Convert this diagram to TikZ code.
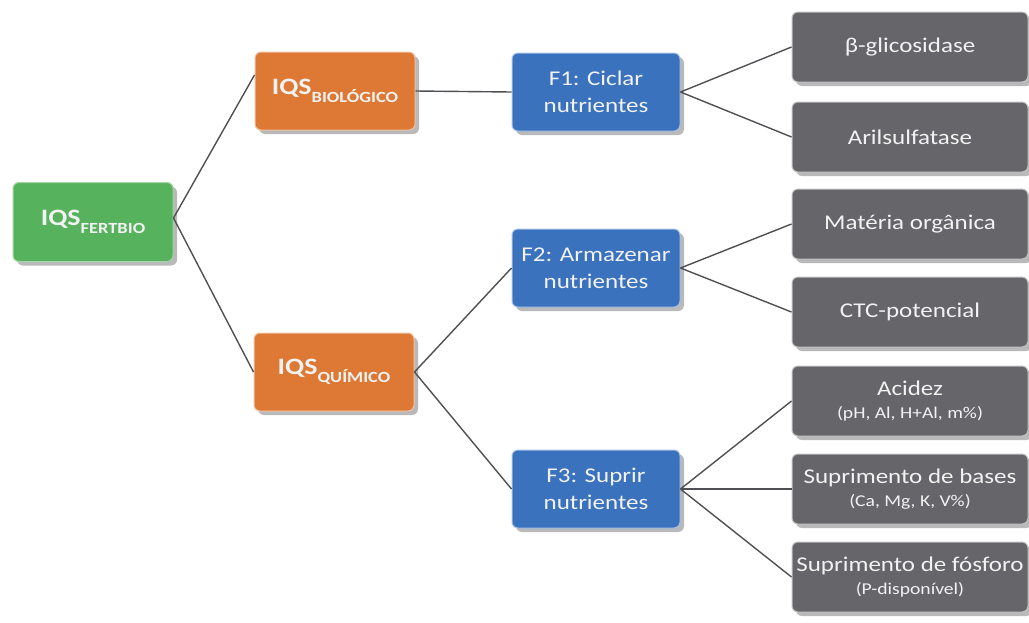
\documentclass[tikz,border=0pt]{standalone}
\usepackage{fontspec}
\setmainfont[FakeStretch=1.19]{Carlito}
\usetikzlibrary{shadows}
\definecolor{verde}{RGB}{86,178,92}
\definecolor{laranja}{RGB}{221,121,52}
\definecolor{azul}{RGB}{58,114,190}
\definecolor{cinza}{RGB}{102,102,106}
\definecolor{linha}{RGB}{80,80,84}
\newcommand{\iqs}[1]{\textbf{{\fontsize{23.5}{23}\selectfont IQS}\raisebox{-8pt}{\fontsize{15.5}{16}\selectfont #1}}}
\begin{document}
\begin{tikzpicture}[x=1pt,y=-1pt,
    caixa/.style={rectangle, rounded corners=6pt, line width=1pt, text=white!95!black,
        inner sep=0pt, align=center, font=\fontsize{21}{27}\selectfont,
        drop shadow={shadow xshift=4pt, shadow yshift=-4pt, opacity=0.55}},
    raiz/.style={caixa, fill=verde, draw=verde!55!white, minimum width=160pt, minimum height=79pt},
    indice/.style={caixa, fill=laranja, draw=laranja!45!white, minimum width=160pt, minimum height=78pt},
    funcao/.style={caixa, fill=azul, draw=azul!45!white, minimum width=168pt, minimum height=78pt},
    indicador/.style={caixa, fill=cinza, draw=cinza!40!white, minimum width=236pt, minimum height=70pt},
    ligacao/.style={draw=linha, line width=1.4pt}]
    % \useasboundingbox
    \useasboundingbox (0,0) rectangle (1029,622);
    \node[raiz] (fertbio) at (93,222) {\iqs{FERTBIO}};
    \node[indice] (bio) at (335,91) {\iqs{BIOLÓGICO}};
    \node[indice] (quim) at (334,372) {\iqs{QUÍMICO}};
    \node[funcao] (f1) at (596,92) {F1: Ciclar\\nutrientes};
    \node[funcao] (f2) at (596,268) {F2: Armazenar\\nutrientes};
    \node[funcao] (f3) at (596,489) {F3: Suprir\\nutrientes};
    \node[indicador] (glic) at (910,47) {β-glicosidase};
    \node[indicador] (aril) at (910,137) {Arilsulfatase};
    \node[indicador] (mo) at (910,224) {Matéria orgânica};
    \node[indicador] (ctc) at (910,312) {CTC-potencial};
    \node[indicador] (acidez) at (910,401) {Acidez\\[-4pt]{\fontsize{16.5}{16}\selectfont (pH, Al, H+Al, m\%)}};
    \node[indicador] (bases) at (910,489) {Suprimento de bases\\[-4pt]{\fontsize{16.5}{16}\selectfont (Ca, Mg, K, V\%)}};
    \node[indicador] (fosforo) at (910,577) {Suprimento de fósforo\\[-4pt]{\fontsize{16.5}{16}\selectfont (P-disponível)}};
    \draw[ligacao] ([yshift=4pt]fertbio.east) -- ([yshift=16pt]bio.west);
    \draw[ligacao] ([yshift=4pt]fertbio.east) -- (quim.west);
    \draw[ligacao] (bio.east) -- (f1.west);
    \draw[ligacao] (quim.east) -- (f2.west);
    \draw[ligacao] (quim.east) -- (f3.west);
    \draw[ligacao] (f1.east) -- (glic.west);
    \draw[ligacao] (f1.east) -- (aril.west);
    \draw[ligacao] (f2.east) -- (mo.west);
    \draw[ligacao] (f2.east) -- (ctc.west);
    \draw[ligacao] (f3.east) -- (acidez.west);
    \draw[ligacao] (f3.east) -- (bases.west);
    \draw[ligacao] (f3.east) -- (fosforo.west);
\end{tikzpicture}
\end{document}
